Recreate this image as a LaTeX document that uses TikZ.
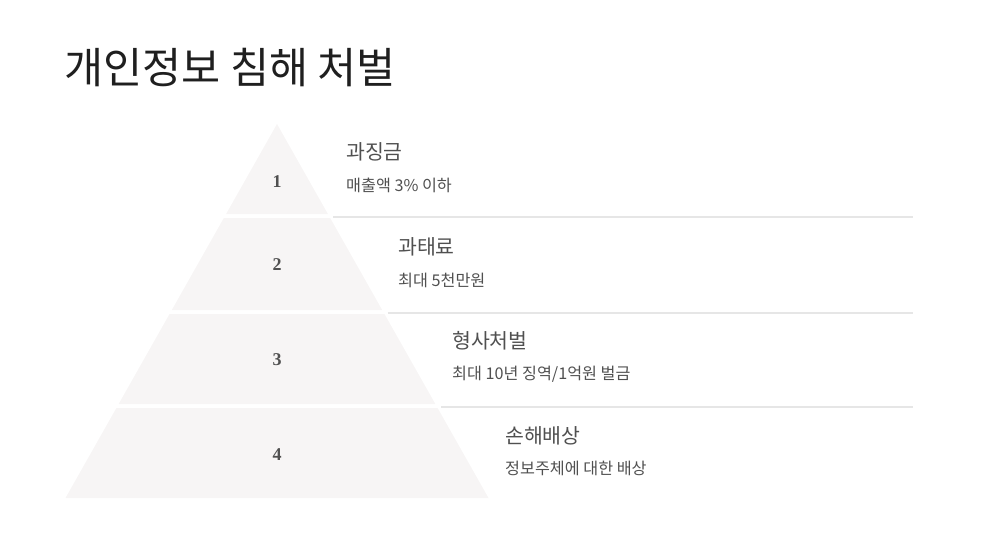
\documentclass[tikz,border=0pt]{standalone}
\usepackage{fontspec}
\setmainfont{Noto Sans CJK KR}
\newfontfamily\numfont{Liberation Serif}
\usepackage{xcolor}
\usetikzlibrary{positioning,calc}

\definecolor{tierfill}{HTML}{F7F5F5}
\definecolor{rulegray}{HTML}{E6E6E6}
\definecolor{textgray}{HTML}{505050}
\tikzset{
  tier/.style={fill=tierfill,draw=none},
  rank/.style={font=\numfont\bfseries\fontsize{18}{18}\selectfont,text=textgray},
  head/.style={anchor=west,inner sep=0pt,font=\fontsize{20.5}{20.5}\selectfont,text=textgray},
  detail/.style={anchor=west,inner sep=0pt,font=\fontsize{16.2}{16.2}\selectfont,text=textgray},
  sepline/.style={draw=rulegray,line width=2pt}
}

\begin{document}
\begin{tikzpicture}[x=1pt,y=-1pt]
    \useasboundingbox (0,0) rectangle (981,542);
    \node[anchor=west,inner sep=0pt,font=\fontsize{42.5}{42.5}\selectfont,text=black!88] (title) at (64,68) {개인정보 침해 처벌};
    \pgfmathsetmacro\sl{211.5/374}
    % Pyramid bands with labels to the right
    \foreach \i/\yt/\yb/\yn/\tx/\yh/\yd/\hd/\dt in {%
        1/124/214/182/346/152/185/과징금/{매출액 3\% 이하},
        2/218/310/265/398/247/280/과태료/{최대 5천만원},
        3/314/404/360/452/341/374/형사처벌/{최대 10년 징역/1억원 벌금},
        4/408/498/455/505/436/468/손해배상/{정보주체에 대한 배상}} {
      \fill[tier] ({277-\sl*(\yt-124)},\yt) -- ({277+\sl*(\yt-124)},\yt)
        -- ({277+\sl*(\yb-124)},\yb) -- ({277-\sl*(\yb-124)},\yb) -- cycle;
      \node[rank] (rank\i) at (277,\yn) {\i};
      \node[head] (head\i) at (\tx,\yh) {\hd};
      \node[detail] (detail\i) at (\tx,\yd) {\dt};
      \ifnum\i<4
        \coordinate (sepL\i) at ({277+\sl*(\yb+2.5-124)+4},\yb+2.5);
        \coordinate (sepR\i) at (913,\yb+2.5);
        \draw[sepline] (sepL\i) -- (sepR\i);
      \fi
    }
  \end{tikzpicture}
\end{document}
